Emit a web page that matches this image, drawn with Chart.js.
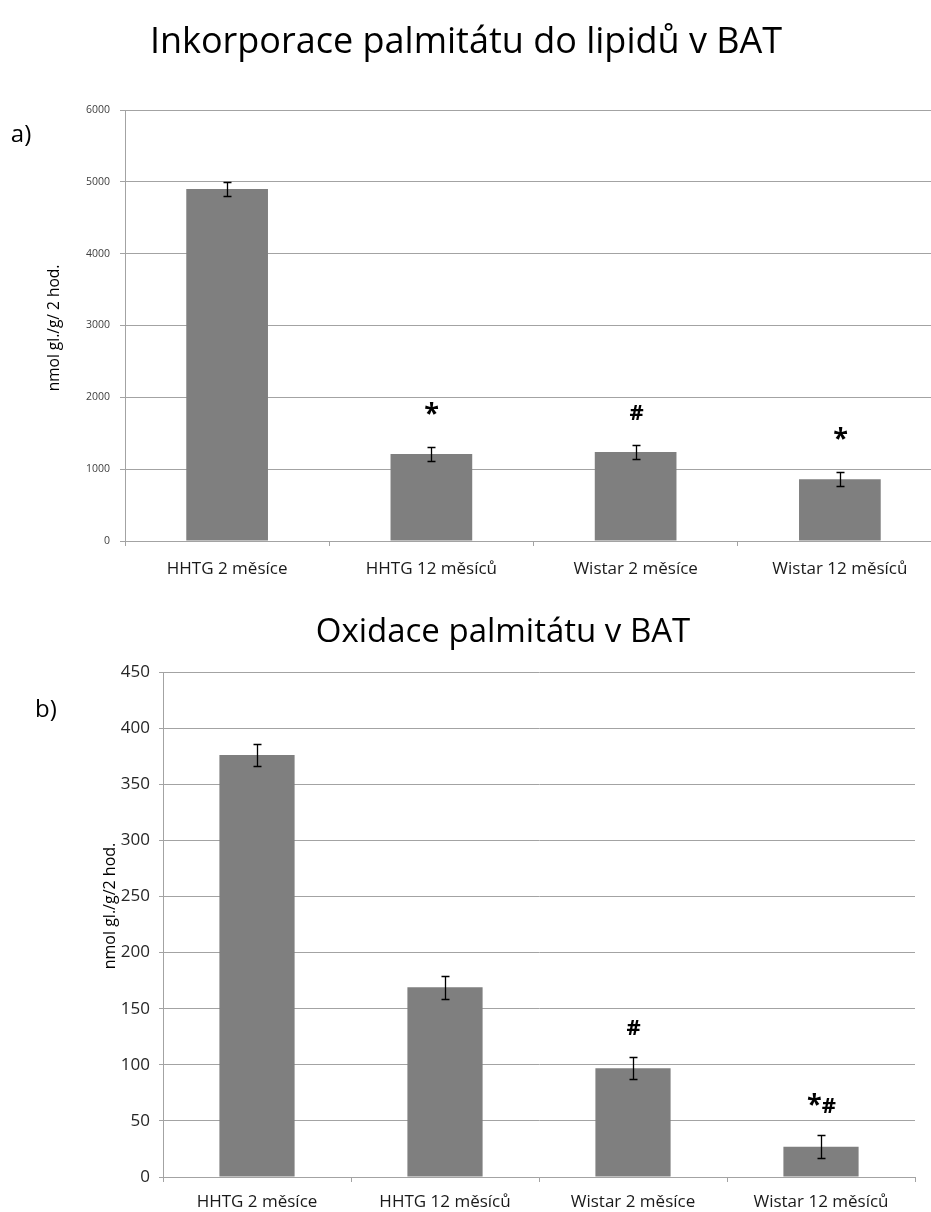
<!DOCTYPE html>
<html>
<head>
<meta charset="utf-8">
<script src="https://cdn.jsdelivr.net/npm/chart.js@4/dist/chart.umd.min.js"></script>
<style>
  html, body { margin: 0; padding: 0; background: #fff; overflow: hidden; width: 931px; height: 1212px; }
  #panelA { position: absolute; left: 0; top: 0; }
  #panelB { position: absolute; left: 0; top: 590px; }
</style>
</head>
<body>
<canvas id="panelA" width="960" height="590"></canvas>
<canvas id="panelB" width="931" height="622"></canvas>
<script>
// Groups of animals
const groups = ['HHTG 2 měsíce', 'HHTG 12 měsíců', 'Wistar 2 měsíce', 'Wistar 12 měsíců'];

// a) palmitate incorporation into lipids, nmol gl./g/2 hod.
const incorporation = [4900, 1210, 1240, 860];
const incorporationErr = [100, 100, 100, 100];
const incorporationMarks = ['', '*', '#', '*'];
const incorporationTicks = [0, 1000, 2000, 3000, 4000, 5000, 6000];

// b) palmitate oxidation, nmol gl./g/2 hod.
const oxidation = [376, 169, 97, 27];
const oxidationErr = [10, 10, 10, 10];
const oxidationMarks = ['', '', '#', '*#'];
const oxidationTicks = [0, 50, 100, 150, 200, 250, 300, 350, 400, 450];

Chart.defaults.font.family = "'Open Sans', 'Noto Sans', sans-serif";
Chart.defaults.animation = false;

const GRID = '#a3a3a3';
const BAR = '#7f7f7f';

// error bars plus significance marks above them
function errorBarPlugin(errors, marks, cap, markGap) {
  return {
    id: 'errorBars',
    afterDatasetsDraw(chart) {
      const ctx = chart.ctx;
      const yScale = chart.scales.y;
      const meta = chart.getDatasetMeta(0);
      const values = chart.data.datasets[0].data;
      ctx.save();
      ctx.strokeStyle = '#000';
      ctx.lineWidth = 1.3;
      meta.data.forEach((bar, i) => {
        const v = values[i], e = errors[i];
        const top = Math.round(yScale.getPixelForValue(v + e)) + 0.5;
        const bot = Math.round(yScale.getPixelForValue(v - e)) + 0.5;
        const x = Math.round(bar.x) + 0.5;
        ctx.beginPath();
        ctx.moveTo(x, top); ctx.lineTo(x, bot);
        ctx.moveTo(x - cap, top); ctx.lineTo(x + cap, top);
        ctx.moveTo(x - cap, bot); ctx.lineTo(x + cap, bot);
        ctx.stroke();

        const mark = marks[i];
        if (mark) {
          // '*' is set larger than '#', both on a shared baseline
          const fontFor = ch => ch === '*' ? "bold 27px 'Open Sans'" : "bold 22px 'Open Sans'";
          const chars = Array.from(mark);
          let total = 0;
          const widths = chars.map(ch => { ctx.font = fontFor(ch); const w = ctx.measureText(ch).width; total += w; return w; });
          let cx = x - total / 2;
          const baseline = top - markGap;
          ctx.fillStyle = '#000';
          ctx.textBaseline = 'alphabetic';
          ctx.textAlign = 'left';
          chars.forEach((ch, k) => {
            ctx.font = fontFor(ch);
            ctx.fillText(ch, cx, baseline);
            cx += widths[k];
          });
        }
      });
      ctx.restore();
    }
  };
}

// free text: headline, panel letter, vertical axis caption
function captionPlugin(items) {
  return {
    id: 'captions',
    afterDraw(chart) {
      const ctx = chart.ctx;
      items.forEach(it => {
        ctx.save();
        ctx.font = it.font;
        ctx.fillStyle = it.color || '#000';
        ctx.textAlign = 'center';
        ctx.textBaseline = it.baseline || 'alphabetic';
        ctx.translate(it.x, it.y);
        if (it.rotate) ctx.rotate(it.rotate);
        ctx.fillText(it.text, 0, 0);
        ctx.restore();
      });
    }
  };
}

function makeChart(canvasId, cfg) {
  return new Chart(document.getElementById(canvasId), {
    type: 'bar',
    data: {
      labels: groups,
      datasets: [{
        data: cfg.values,
        backgroundColor: BAR,
        borderWidth: 0,
        barPercentage: cfg.barPct,
        categoryPercentage: 1
      }]
    },
    options: {
      responsive: false,
      animation: false,
      layout: { padding: cfg.padding },
      plugins: { legend: { display: false }, tooltip: { enabled: false }, title: { display: false } },
      scales: {
        x: {
          grid: { display: true, drawOnChartArea: false, drawTicks: true, tickLength: 5, color: GRID, offset: true },
          border: { display: true, color: GRID, width: 1 },
          ticks: { font: { size: 17 }, color: '#1a1a1a', padding: cfg.xPad, maxRotation: 0, autoSkip: false },
          afterFit: s => { s.height = cfg.xHeight; }
        },
        y: {
          min: cfg.ticks[0],
          max: cfg.ticks[cfg.ticks.length - 1],
          afterBuildTicks: s => { s.ticks = cfg.ticks.map(v => ({ value: v })); },
          grid: { color: GRID, tickLength: cfg.yTickLen, drawTicks: true },
          border: { display: true, color: GRID, width: 1 },
          ticks: {
            font: { size: cfg.yFont }, color: cfg.yColor, padding: cfg.yPad,
            callback: v => String(v)
          },
          afterFit: s => { s.width = cfg.yWidth; }
        }
      }
    },
    plugins: [errorBarPlugin(cfg.errors, cfg.marks, 4, cfg.markGap), captionPlugin(cfg.captions)]
  });
}

makeChart('panelA', {
  values: incorporation,
  errors: incorporationErr,
  marks: incorporationMarks,
  ticks: incorporationTicks,
  barPct: 0.4,
  padding: { left: 0, top: 110, right: 18, bottom: 4 },
  xHeight: 45,
  xPad: 13,
  yWidth: 125,
  yFont: 10.5,
  yColor: '#404040',
  yPad: 10,
  yTickLen: 5,
  markGap: 26,
  captions: [
    { text: 'Inkorporace palmitátu do lipidů v BAT', x: 466, y: 53, font: "36px 'Open Sans'" },
    { text: 'a)', x: 21, y: 135, font: "24px 'Open Sans'", baseline: 'middle' },
    { text: 'nmol gl./g/ 2 hod.', x: 55, y: 328, font: "15.5px 'Open Sans'", baseline: 'middle', rotate: -Math.PI / 2 }
  ]
});

makeChart('panelB', {
  values: oxidation,
  errors: oxidationErr,
  marks: oxidationMarks,
  ticks: oxidationTicks,
  barPct: 0.4,
  padding: { left: 0, top: 82, right: 16, bottom: 0 },
  xHeight: 35,
  xPad: 10,
  yWidth: 163,
  yFont: 17,
  yColor: '#262626',
  yPad: 9,
  yTickLen: 4,
  markGap: 23,
  captions: [
    { text: 'Oxidace palmitátu v BAT', x: 503, y: 52, font: "33px 'Open Sans'" },
    { text: 'b)', x: 46, y: 120, font: "24px 'Open Sans'", baseline: 'middle' },
    { text: 'nmol gl./g/2 hod.', x: 110, y: 316, font: "16px 'Open Sans'", baseline: 'middle', rotate: -Math.PI / 2 }
  ]
});
</script>
</body>
</html>
